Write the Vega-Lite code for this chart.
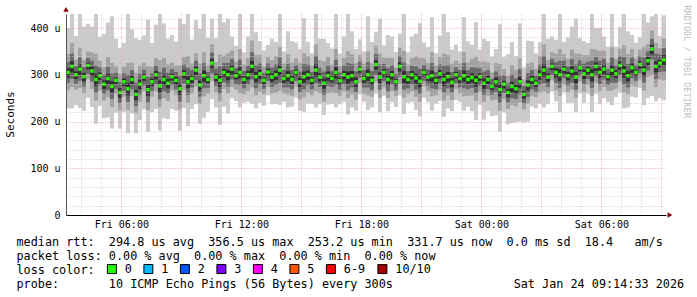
{"$schema":"https://vega.github.io/schema/vega-lite/v6.json","width":600,"height":201,"autosize":{"type":"none"},"padding":{"left":66,"top":14,"right":31,"bottom":82},"background":"white","config":{"view":{"stroke":null}},
"data":{"values":[
{"h":3.33,"a":228,"c":267,"e":283,"g":294,"m":305,"k":314,"f":327,"d":345,"b":400,"loss":"0"},
{"h":3.53,"a":228,"c":274,"e":291,"g":305,"m":318,"k":329,"f":345,"d":368,"b":468,"loss":"0"},
{"h":3.73,"a":235,"c":268,"e":281,"g":291,"m":300,"k":307,"f":318,"d":332,"b":383,"loss":"0"},
{"h":3.93,"a":229,"c":272,"e":287,"g":300,"m":312,"k":322,"f":337,"d":358,"b":432,"loss":"0"},
{"h":4.13,"a":223,"c":261,"e":275,"g":286,"m":296,"k":304,"f":316,"d":332,"b":403,"loss":"0"},
{"h":4.33,"a":251,"c":290,"e":302,"g":312,"m":320,"k":326,"f":336,"d":350,"b":409,"loss":"0"},
{"h":4.53,"a":231,"c":270,"e":286,"g":297,"m":308,"k":317,"f":330,"d":348,"b":403,"loss":"0"},
{"h":4.73,"a":195,"c":245,"e":262,"g":276,"m":290,"k":302,"f":320,"d":345,"b":455,"loss":"0"},
{"h":4.93,"a":233,"c":266,"e":279,"g":289,"m":298,"k":305,"f":316,"d":330,"b":381,"loss":"0"},
{"h":5.13,"a":207,"c":245,"e":259,"g":270,"m":280,"k":288,"f":300,"d":316,"b":387,"loss":"0"},
{"h":5.33,"a":209,"c":252,"e":267,"g":280,"m":292,"k":302,"f":317,"d":338,"b":412,"loss":"0"},
{"h":5.53,"a":185,"c":231,"e":248,"g":262,"m":275,"k":286,"f":302,"d":325,"b":425,"loss":"0"},
{"h":5.73,"a":219,"c":258,"e":270,"g":280,"m":288,"k":294,"f":304,"d":318,"b":377,"loss":"0"},
{"h":5.93,"a":185,"c":224,"e":240,"g":251,"m":262,"k":271,"f":284,"d":302,"b":357,"loss":"0"},
{"h":6.13,"a":220,"c":253,"e":266,"g":276,"m":285,"k":292,"f":303,"d":317,"b":368,"loss":"0"},
{"h":6.33,"a":175,"c":225,"e":242,"g":256,"m":270,"k":282,"f":300,"d":325,"b":435,"loss":"0"},
{"h":6.53,"a":217,"c":255,"e":269,"g":280,"m":290,"k":298,"f":310,"d":326,"b":397,"loss":"0"},
{"h":6.73,"a":175,"c":218,"e":233,"g":246,"m":258,"k":268,"f":283,"d":304,"b":378,"loss":"0"},
{"h":6.93,"a":203,"c":242,"e":258,"g":269,"m":280,"k":289,"f":302,"d":320,"b":375,"loss":"0"},
{"h":7.13,"a":226,"c":265,"e":277,"g":287,"m":295,"k":301,"f":311,"d":325,"b":384,"loss":"0"},
{"h":7.33,"a":178,"c":224,"e":241,"g":255,"m":268,"k":279,"f":295,"d":318,"b":418,"loss":"0"},
{"h":7.53,"a":220,"c":253,"e":266,"g":276,"m":285,"k":292,"f":303,"d":317,"b":368,"loss":"0"},
{"h":7.73,"a":227,"c":265,"e":279,"g":290,"m":300,"k":308,"f":320,"d":336,"b":407,"loss":"0"},
{"h":7.93,"a":181,"c":231,"e":248,"g":262,"m":276,"k":288,"f":306,"d":331,"b":441,"loss":"0"},
{"h":8.13,"a":207,"c":250,"e":265,"g":278,"m":290,"k":300,"f":315,"d":336,"b":410,"loss":"0"},
{"h":8.33,"a":205,"c":244,"e":260,"g":271,"m":282,"k":291,"f":304,"d":322,"b":377,"loss":"0"},
{"h":8.53,"a":227,"c":266,"e":278,"g":288,"m":296,"k":302,"f":312,"d":326,"b":385,"loss":"0"},
{"h":8.73,"a":223,"c":256,"e":269,"g":279,"m":288,"k":295,"f":306,"d":320,"b":371,"loss":"0"},
{"h":8.93,"a":180,"c":226,"e":243,"g":257,"m":270,"k":281,"f":297,"d":320,"b":420,"loss":"0"},
{"h":9.13,"a":229,"c":267,"e":281,"g":292,"m":302,"k":310,"f":322,"d":338,"b":409,"loss":"0"},
{"h":9.33,"a":190,"c":240,"e":257,"g":271,"m":285,"k":297,"f":315,"d":340,"b":450,"loss":"0"},
{"h":9.53,"a":227,"c":260,"e":273,"g":283,"m":292,"k":299,"f":310,"d":324,"b":375,"loss":"0"},
{"h":9.73,"a":237,"c":275,"e":289,"g":300,"m":310,"k":318,"f":330,"d":346,"b":417,"loss":"0"},
{"h":9.93,"a":195,"c":238,"e":253,"g":266,"m":278,"k":288,"f":303,"d":324,"b":398,"loss":"0"},
{"h":10.13,"a":208,"c":254,"e":271,"g":285,"m":298,"k":309,"f":325,"d":348,"b":448,"loss":"0"},
{"h":10.33,"a":221,"c":260,"e":272,"g":282,"m":290,"k":296,"f":306,"d":320,"b":379,"loss":"0"},
{"h":10.53,"a":248,"c":287,"e":303,"g":314,"m":325,"k":334,"f":347,"d":365,"b":420,"loss":"0"},
{"h":10.73,"a":230,"c":263,"e":276,"g":286,"m":295,"k":302,"f":313,"d":327,"b":378,"loss":"0"},
{"h":10.93,"a":193,"c":243,"e":260,"g":274,"m":288,"k":300,"f":318,"d":343,"b":453,"loss":"0"},
{"h":11.13,"a":232,"c":270,"e":284,"g":295,"m":305,"k":313,"f":325,"d":341,"b":412,"loss":"0"},
{"h":11.33,"a":217,"c":260,"e":275,"g":288,"m":300,"k":310,"f":325,"d":346,"b":420,"loss":"0"},
{"h":11.53,"a":250,"c":274,"e":290,"g":301,"m":312,"k":321,"f":334,"d":352,"b":382,"loss":"0"},
{"h":11.73,"a":244,"c":268,"e":280,"g":290,"m":298,"k":304,"f":314,"d":328,"b":362,"loss":"0"},
{"h":11.93,"a":230,"c":261,"e":278,"g":292,"m":305,"k":316,"f":332,"d":355,"b":430,"loss":"0"},
{"h":12.13,"a":240,"c":258,"e":271,"g":281,"m":290,"k":297,"f":308,"d":322,"b":348,"loss":"0"},
{"h":12.33,"a":242,"c":265,"e":279,"g":290,"m":300,"k":308,"f":320,"d":336,"b":382,"loss":"0"},
{"h":12.53,"a":238,"c":273,"e":290,"g":304,"m":318,"k":330,"f":348,"d":373,"b":458,"loss":"0"},
{"h":12.73,"a":228,"c":256,"e":271,"g":284,"m":296,"k":306,"f":321,"d":342,"b":391,"loss":"0"},
{"h":12.93,"a":240,"c":264,"e":280,"g":291,"m":302,"k":311,"f":324,"d":342,"b":372,"loss":"0"},
{"h":13.13,"a":234,"c":258,"e":270,"g":280,"m":288,"k":294,"f":304,"d":318,"b":352,"loss":"0"},
{"h":13.33,"a":256,"c":274,"e":287,"g":297,"m":306,"k":313,"f":324,"d":338,"b":364,"loss":"0"},
{"h":13.53,"a":237,"c":260,"e":274,"g":285,"m":295,"k":303,"f":315,"d":331,"b":377,"loss":"0"},
{"h":13.73,"a":238,"c":262,"e":278,"g":289,"m":300,"k":309,"f":322,"d":340,"b":370,"loss":"0"},
{"h":13.93,"a":235,"c":266,"e":283,"g":297,"m":310,"k":321,"f":337,"d":360,"b":435,"loss":"0"},
{"h":14.13,"a":242,"c":260,"e":273,"g":283,"m":292,"k":299,"f":310,"d":324,"b":350,"loss":"0"},
{"h":14.33,"a":230,"c":258,"e":273,"g":286,"m":298,"k":308,"f":323,"d":344,"b":393,"loss":"0"},
{"h":14.53,"a":232,"c":255,"e":269,"g":280,"m":290,"k":298,"f":310,"d":326,"b":372,"loss":"0"},
{"h":14.73,"a":251,"c":275,"e":287,"g":297,"m":305,"k":311,"f":321,"d":335,"b":369,"loss":"0"},
{"h":14.93,"a":223,"c":247,"e":263,"g":274,"m":285,"k":294,"f":307,"d":325,"b":355,"loss":"0"},
{"h":15.13,"a":221,"c":252,"e":269,"g":283,"m":296,"k":307,"f":323,"d":346,"b":421,"loss":"0"},
{"h":15.33,"a":238,"c":262,"e":278,"g":289,"m":300,"k":309,"f":322,"d":340,"b":370,"loss":"0"},
{"h":15.53,"a":238,"c":256,"e":269,"g":279,"m":288,"k":295,"f":306,"d":320,"b":346,"loss":"0"},
{"h":15.73,"a":230,"c":265,"e":282,"g":296,"m":310,"k":322,"f":340,"d":365,"b":450,"loss":"0"},
{"h":15.93,"a":237,"c":260,"e":274,"g":285,"m":295,"k":303,"f":315,"d":331,"b":377,"loss":"0"},
{"h":16.13,"a":214,"c":242,"e":257,"g":270,"m":282,"k":292,"f":307,"d":328,"b":377,"loss":"0"},
{"h":16.33,"a":236,"c":260,"e":276,"g":287,"m":298,"k":307,"f":320,"d":338,"b":368,"loss":"0"},
{"h":16.53,"a":238,"c":262,"e":274,"g":284,"m":292,"k":298,"f":308,"d":322,"b":356,"loss":"0"},
{"h":16.73,"a":230,"c":261,"e":278,"g":292,"m":305,"k":316,"f":332,"d":355,"b":430,"loss":"0"},
{"h":16.93,"a":237,"c":255,"e":268,"g":278,"m":287,"k":294,"f":305,"d":319,"b":345,"loss":"0"},
{"h":17.13,"a":242,"c":265,"e":279,"g":290,"m":300,"k":308,"f":320,"d":336,"b":382,"loss":"0"},
{"h":17.33,"a":215,"c":250,"e":267,"g":281,"m":295,"k":307,"f":325,"d":350,"b":435,"loss":"0"},
{"h":17.53,"a":230,"c":258,"e":273,"g":286,"m":298,"k":308,"f":323,"d":344,"b":393,"loss":"0"},
{"h":17.73,"a":223,"c":247,"e":263,"g":274,"m":285,"k":294,"f":307,"d":325,"b":355,"loss":"0"},
{"h":17.93,"a":258,"c":282,"e":294,"g":304,"m":312,"k":318,"f":328,"d":342,"b":376,"loss":"0"},
{"h":18.13,"a":242,"c":260,"e":273,"g":283,"m":292,"k":299,"f":310,"d":324,"b":350,"loss":"0"},
{"h":18.33,"a":225,"c":256,"e":273,"g":287,"m":300,"k":311,"f":327,"d":350,"b":425,"loss":"0"},
{"h":18.53,"a":230,"c":253,"e":267,"g":278,"m":288,"k":296,"f":308,"d":324,"b":370,"loss":"0"},
{"h":18.73,"a":260,"c":284,"e":300,"g":311,"m":322,"k":331,"f":344,"d":362,"b":392,"loss":"0"},
{"h":18.93,"a":220,"c":251,"e":268,"g":282,"m":295,"k":306,"f":322,"d":345,"b":420,"loss":"0"},
{"h":19.13,"a":255,"c":273,"e":286,"g":296,"m":305,"k":312,"f":323,"d":337,"b":363,"loss":"0"},
{"h":19.33,"a":222,"c":250,"e":265,"g":278,"m":290,"k":300,"f":315,"d":336,"b":385,"loss":"0"},
{"h":19.53,"a":242,"c":265,"e":279,"g":290,"m":300,"k":308,"f":320,"d":336,"b":382,"loss":"0"},
{"h":19.73,"a":231,"c":255,"e":267,"g":277,"m":285,"k":291,"f":301,"d":315,"b":349,"loss":"0"},
{"h":19.93,"a":256,"c":280,"e":296,"g":307,"m":318,"k":327,"f":340,"d":358,"b":388,"loss":"0"},
{"h":20.13,"a":216,"c":251,"e":268,"g":282,"m":296,"k":308,"f":326,"d":351,"b":436,"loss":"0"},
{"h":20.33,"a":240,"c":258,"e":271,"g":281,"m":290,"k":297,"f":308,"d":322,"b":348,"loss":"0"},
{"h":20.53,"a":242,"c":265,"e":279,"g":290,"m":300,"k":308,"f":320,"d":336,"b":382,"loss":"0"},
{"h":20.73,"a":225,"c":253,"e":268,"g":281,"m":293,"k":303,"f":318,"d":339,"b":388,"loss":"0"},
{"h":20.93,"a":211,"c":242,"e":259,"g":273,"m":286,"k":297,"f":313,"d":336,"b":411,"loss":"0"},
{"h":21.13,"a":251,"c":275,"e":287,"g":297,"m":305,"k":311,"f":321,"d":335,"b":369,"loss":"0"},
{"h":21.33,"a":241,"c":265,"e":277,"g":287,"m":295,"k":301,"f":311,"d":325,"b":359,"loss":"0"},
{"h":21.53,"a":223,"c":254,"e":271,"g":285,"m":298,"k":309,"f":325,"d":348,"b":423,"loss":"0"},
{"h":21.73,"a":238,"c":256,"e":269,"g":279,"m":288,"k":295,"f":306,"d":320,"b":346,"loss":"0"},
{"h":21.93,"a":244,"c":267,"e":281,"g":292,"m":302,"k":310,"f":322,"d":338,"b":384,"loss":"0"},
{"h":22.13,"a":210,"c":245,"e":262,"g":276,"m":290,"k":302,"f":320,"d":345,"b":430,"loss":"0"},
{"h":22.33,"a":228,"c":256,"e":271,"g":284,"m":296,"k":306,"f":321,"d":342,"b":391,"loss":"0"},
{"h":22.53,"a":222,"c":246,"e":262,"g":273,"m":284,"k":293,"f":306,"d":324,"b":354,"loss":"0"},
{"h":22.73,"a":246,"c":270,"e":282,"g":292,"m":300,"k":306,"f":316,"d":330,"b":364,"loss":"0"},
{"h":22.93,"a":242,"c":260,"e":273,"g":283,"m":292,"k":299,"f":310,"d":324,"b":350,"loss":"0"},
{"h":23.13,"a":223,"c":254,"e":271,"g":285,"m":298,"k":309,"f":325,"d":348,"b":423,"loss":"0"},
{"h":23.33,"a":232,"c":255,"e":269,"g":280,"m":290,"k":298,"f":310,"d":326,"b":372,"loss":"0"},
{"h":23.53,"a":222,"c":256,"e":272,"g":283,"m":294,"k":303,"f":316,"d":334,"b":364,"loss":"0"},
{"h":23.73,"a":203,"c":244,"e":261,"g":275,"m":288,"k":299,"f":315,"d":338,"b":413,"loss":"0"},
{"h":23.93,"a":236,"c":264,"e":277,"g":287,"m":296,"k":303,"f":314,"d":328,"b":354,"loss":"0"},
{"h":24.13,"a":204,"c":242,"e":257,"g":270,"m":282,"k":292,"f":307,"d":328,"b":377,"loss":"0"},
{"h":24.33,"a":222,"c":255,"e":269,"g":280,"m":290,"k":298,"f":310,"d":326,"b":372,"loss":"0"},
{"h":24.53,"a":211,"c":245,"e":257,"g":267,"m":275,"k":281,"f":291,"d":305,"b":339,"loss":"0"},
{"h":24.73,"a":213,"c":247,"e":263,"g":274,"m":285,"k":294,"f":307,"d":325,"b":355,"loss":"0"},
{"h":24.93,"a":178,"c":223,"e":240,"g":254,"m":268,"k":280,"f":298,"d":323,"b":408,"loss":"0"},
{"h":25.13,"a":220,"c":248,"e":261,"g":271,"m":280,"k":287,"f":298,"d":312,"b":338,"loss":"0"},
{"h":25.33,"a":194,"c":227,"e":241,"g":252,"m":262,"k":270,"f":282,"d":298,"b":344,"loss":"0"},
{"h":25.53,"a":197,"c":235,"e":250,"g":263,"m":275,"k":285,"f":300,"d":321,"b":370,"loss":"0"},
{"h":25.73,"a":198,"c":232,"e":248,"g":259,"m":270,"k":279,"f":292,"d":310,"b":340,"loss":"0"},
{"h":25.93,"a":200,"c":241,"e":258,"g":272,"m":285,"k":296,"f":312,"d":335,"b":410,"loss":"0"},
{"h":26.13,"a":198,"c":226,"e":239,"g":249,"m":258,"k":265,"f":276,"d":290,"b":316,"loss":"0"},
{"h":26.33,"a":200,"c":238,"e":253,"g":266,"m":278,"k":288,"f":303,"d":324,"b":373,"loss":"0"},
{"h":26.53,"a":232,"c":255,"e":269,"g":280,"m":290,"k":298,"f":310,"d":326,"b":372,"loss":"0"},
{"h":26.73,"a":228,"c":252,"e":264,"g":274,"m":282,"k":288,"f":298,"d":312,"b":346,"loss":"0"},
{"h":26.93,"a":238,"c":262,"e":278,"g":289,"m":300,"k":309,"f":322,"d":340,"b":370,"loss":"0"},
{"h":27.13,"a":230,"c":265,"e":282,"g":296,"m":310,"k":322,"f":340,"d":365,"b":450,"loss":"0"},
{"h":27.33,"a":237,"c":260,"e":274,"g":285,"m":295,"k":303,"f":315,"d":331,"b":377,"loss":"0"},
{"h":27.53,"a":264,"c":288,"e":300,"g":310,"m":318,"k":324,"f":334,"d":348,"b":382,"loss":"0"},
{"h":27.73,"a":243,"c":267,"e":283,"g":294,"m":305,"k":314,"f":327,"d":345,"b":375,"loss":"0"},
{"h":27.93,"a":220,"c":255,"e":272,"g":286,"m":300,"k":312,"f":330,"d":355,"b":440,"loss":"0"},
{"h":28.13,"a":262,"c":280,"e":293,"g":303,"m":312,"k":319,"f":330,"d":344,"b":370,"loss":"0"},
{"h":28.33,"a":240,"c":263,"e":277,"g":288,"m":298,"k":306,"f":318,"d":334,"b":380,"loss":"0"},
{"h":28.53,"a":240,"c":268,"e":283,"g":296,"m":308,"k":318,"f":333,"d":354,"b":403,"loss":"0"},
{"h":28.73,"a":220,"c":251,"e":268,"g":282,"m":295,"k":306,"f":322,"d":345,"b":420,"loss":"0"},
{"h":28.93,"a":261,"c":285,"e":297,"g":307,"m":315,"k":321,"f":331,"d":345,"b":379,"loss":"0"},
{"h":29.13,"a":240,"c":264,"e":280,"g":291,"m":302,"k":311,"f":324,"d":342,"b":372,"loss":"0"},
{"h":29.33,"a":260,"c":278,"e":291,"g":301,"m":310,"k":317,"f":328,"d":342,"b":368,"loss":"0"},
{"h":29.53,"a":220,"c":255,"e":272,"g":286,"m":300,"k":312,"f":330,"d":355,"b":440,"loss":"0"},
{"h":29.73,"a":260,"c":283,"e":297,"g":308,"m":318,"k":326,"f":338,"d":354,"b":400,"loss":"0"},
{"h":29.93,"a":237,"c":265,"e":280,"g":293,"m":305,"k":315,"f":330,"d":351,"b":400,"loss":"0"},
{"h":30.13,"a":250,"c":274,"e":290,"g":301,"m":312,"k":321,"f":334,"d":352,"b":382,"loss":"0"},
{"h":30.33,"a":242,"c":266,"e":278,"g":288,"m":296,"k":302,"f":312,"d":326,"b":360,"loss":"0"},
{"h":30.53,"a":235,"c":266,"e":283,"g":297,"m":310,"k":321,"f":337,"d":360,"b":435,"loss":"0"},
{"h":30.73,"a":252,"c":270,"e":283,"g":293,"m":302,"k":309,"f":320,"d":334,"b":360,"loss":"0"},
{"h":30.93,"a":262,"c":285,"e":299,"g":310,"m":320,"k":328,"f":340,"d":356,"b":402,"loss":"0"},
{"h":31.13,"a":228,"c":263,"e":280,"g":294,"m":308,"k":320,"f":338,"d":363,"b":448,"loss":"0"},
{"h":31.33,"a":230,"c":258,"e":273,"g":286,"m":298,"k":308,"f":323,"d":344,"b":393,"loss":"0"},
{"h":31.53,"a":253,"c":277,"e":293,"g":304,"m":315,"k":324,"f":337,"d":355,"b":385,"loss":"0"},
{"h":31.73,"a":251,"c":275,"e":287,"g":297,"m":305,"k":311,"f":321,"d":335,"b":369,"loss":"0"},
{"h":31.93,"a":272,"c":290,"e":303,"g":313,"m":322,"k":329,"f":340,"d":354,"b":380,"loss":"0"},
{"h":32.13,"a":235,"c":266,"e":283,"g":297,"m":310,"k":321,"f":337,"d":360,"b":435,"loss":"0"},
{"h":32.33,"a":250,"c":295,"e":309,"g":320,"m":330,"k":338,"f":350,"d":366,"b":412,"loss":"0"},
{"h":32.53,"a":255,"c":300,"e":333,"g":344,"m":355,"k":364,"f":377,"d":395,"b":425,"loss":"0"},
{"h":32.73,"a":243,"c":274,"e":291,"g":305,"m":318,"k":329,"f":345,"d":368,"b":443,"loss":"0"},
{"h":32.93,"a":250,"c":290,"e":306,"g":316,"m":325,"k":332,"f":343,"d":357,"b":383,"loss":"0"},
{"h":33.13,"a":245,"c":288,"e":307,"g":320,"m":332,"k":342,"f":357,"d":378,"b":427,"loss":"0"}
]},
"layer":[
{"mark":{"type":"rule","strokeWidth":4,"strokeCap":"butt","color":"#cacaca","clip":true},
 "encoding":{
  "x":{"field":"h","type":"quantitative","scale":{"domain":[3.233,33.233],"nice":false,"zero":false},
       "axis":{"orient":"bottom","values":[4,5,7,8,10,11,13,14,16,17,19,20,22,23,25,26,28,29,31,32],"grid":true,"gridColor":"#c8c8c8","gridDash":[1,2],"gridOpacity":1,"labels":false,"ticks":false,"domain":false,"title":null,"zindex":1}},
  "y":{"field":"a","type":"quantitative","scale":{"domain":[0,430],"nice":false,"zero":true},
       "axis":{"orient":"left","values":[20,40,60,80,120,140,160,180,220,240,260,280,320,340,360,380,420],"grid":true,"gridColor":"#c8c8c8","gridDash":[1,2],"gridOpacity":1,"labels":false,"ticks":false,"domain":false,"title":null,"zindex":1}},
  "y2":{"field":"b"}}},
{"mark":{"type":"rule","strokeWidth":4,"strokeCap":"butt","color":"#a2a2a2","clip":true},
 "encoding":{"x":{"field":"h","type":"quantitative","axis":null},"y":{"field":"c","type":"quantitative","axis":null},"y2":{"field":"d"}}},
{"mark":{"type":"rule","strokeWidth":4,"strokeCap":"butt","color":"#6a6a6a","clip":true},
 "encoding":{"x":{"field":"h","type":"quantitative","axis":null},"y":{"field":"e","type":"quantitative","axis":null},"y2":{"field":"f"}}},
{"mark":{"type":"rule","strokeWidth":4,"strokeCap":"butt","color":"#303030","clip":true},
 "encoding":{"x":{"field":"h","type":"quantitative","axis":null},"y":{"field":"g","type":"quantitative","axis":null},"y2":{"field":"k"}}},
{"mark":{"type":"square","size":12,"opacity":1,"filled":true,"clip":true},
 "encoding":{
  "x":{"field":"h","type":"quantitative",
       "axis":{"orient":"bottom","values":[6,9,12,15,18,21,24,27,30,33],"grid":true,"gridColor":"#e6a0a0","gridDash":[1,2],"gridOpacity":1,
               "labelExpr":"datum.value == 6 ? 'Fri 06:00' : datum.value == 12 ? 'Fri 12:00' : datum.value == 18 ? 'Fri 18:00' : datum.value == 24 ? 'Sat 00:00' : datum.value == 30 ? 'Sat 06:00' : ''",
               "labelFont":"DejaVu Sans Mono","labelFontSize":10,"labelColor":"#000000","labelPadding":4,"labelOverlap":false,"labelFlush":false,
               "ticks":false,"domain":true,"domainColor":"#000000","domainWidth":1,
               "title":["median rtt:\u00a0\u00a0294.8 us avg\u00a0\u00a0356.5 us max\u00a0\u00a0253.2 us min\u00a0\u00a0331.7 us now\u00a0\u00a00.0 ms sd\u00a0\u00a018.4\u00a0\u00a0\u00a0am/s","packet loss: 0.00 % avg\u00a0\u00a00.00 % max\u00a0\u00a00.00 % min\u00a0\u00a00.00 % now","loss color:","probe:\u00a0\u00a0\u00a0\u00a0\u00a0\u00a0\u00a010 ICMP Echo Pings (56 Bytes) every 300s\u00a0\u00a0\u00a0\u00a0\u00a0\u00a0\u00a0\u00a0\u00a0\u00a0\u00a0\u00a0\u00a0\u00a0\u00a0\u00a0\u00a0Sat Jan 24 09:14:33 2026"],
               "titleX":-50,"titleY":30,"titleAlign":"left","titleAnchor":"start","titleBaseline":"alphabetic","titleFont":"DejaVu Sans Mono","titleFontSize":11.8,"titleFontWeight":"normal","titleColor":"#000000","titleLineHeight":14,"zindex":1}},
  "y":{"field":"m","type":"quantitative",
       "axis":{"orient":"left","values":[0,100,200,300,400],"grid":true,"gridColor":"#e6a0a0","gridDash":[1,2],"gridOpacity":1,
               "labelExpr":"datum.value == 0 ? '0\u00a0\u00a0' : datum.value + ' u'",
               "labelFont":"DejaVu Sans Mono","labelFontSize":10,"labelColor":"#000000","labelPadding":6,"ticks":false,"domain":true,"domainColor":"#555555","domainWidth":1,
               "title":"Seconds","titleFont":"DejaVu Sans Mono","titleFontSize":11,"titleFontWeight":"normal","titleColor":"#000000","titleX":-56,"titleY":100,"titleAngle":270,"titleAlign":"center","titleBaseline":"middle","zindex":1}},
  "color":{"field":"loss","type":"nominal",
       "scale":{"domain":["0","1","2","3","4","5","6-9","10/10"],"range":["#26ff00","#00b8ff","#0059ff","#7e00ff","#ff00ff","#ff5500","#ff0000","#a10000"]},
       "legend":{"orient":"none","legendX":40,"legendY":249,"direction":"horizontal","title":null,"symbolType":"square","symbolSize":81,"symbolStrokeColor":"#000000","symbolStrokeWidth":1,"symbolOpacity":1,"labelFont":"DejaVu Sans Mono","labelFontSize":11.8,"labelColor":"#000000","labelOffset":7,"columnPadding":9.5,"padding":0}}}},
{"data":{"values":[{"h":3.233,"v":440,"s":"triangle-up"},{"h":33.43,"v":0,"s":"triangle-right"}]},
 "mark":{"type":"point","filled":true,"size":30,"opacity":1,"color":"#800000","clip":false},
 "encoding":{
  "x":{"field":"h","type":"quantitative","axis":null},
  "y":{"field":"v","type":"quantitative",
       "axis":{"orient":"right","labels":false,"ticks":false,"domain":false,"grid":false,"title":"RRDTOOL / TOBI OETIKER","titleAngle":90,"titleX":20,"titleY":-9,"titleAlign":"left","titleBaseline":"middle","titleFont":"DejaVu Sans Mono","titleFontSize":8.5,"titleFontWeight":"normal","titleColor":"#c0c0c0"}},
  "shape":{"field":"s","type":"nominal","scale":{"domain":["triangle-up","triangle-right"],"range":["triangle-up","triangle-right"]},"legend":null}}}
],
"resolve":{"axis":{"x":"independent","y":"independent"}}
}
